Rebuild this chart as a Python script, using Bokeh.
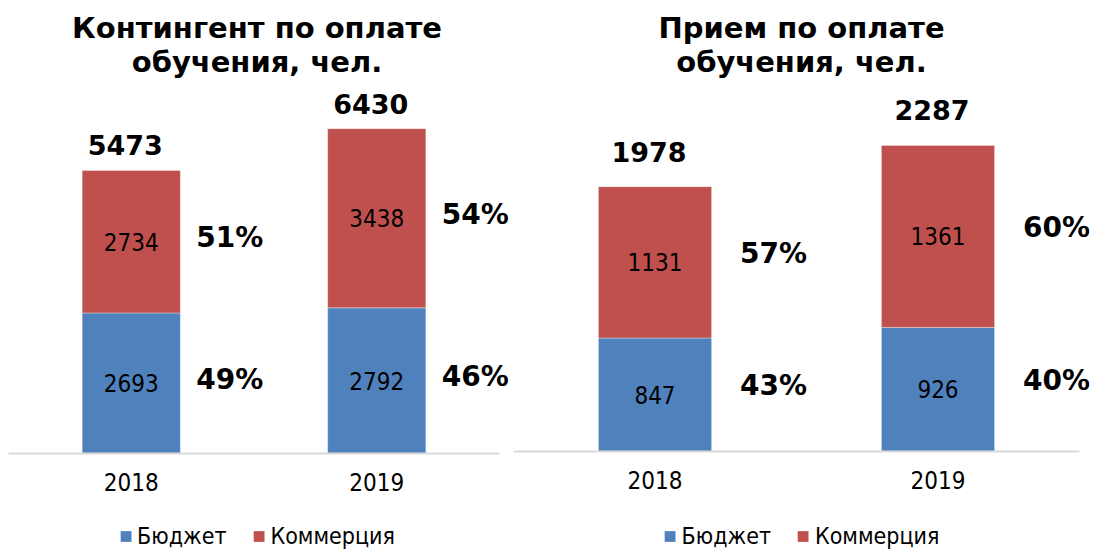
from bokeh.plotting import figure
from bokeh.models import (Range1d, ColumnDataSource, Legend, LegendItem, Title,
                          LabelSet, FixedTicker)
from bokeh.layouts import row
from bokeh.embed import file_html
from bokeh.resources import INLINE
from bokeh.core.properties import value

years = ["2018", "2019"]
series = ["Бюджет", "Коммерция"]
colors = ["#4F81BD", "#C0504D"]

left_title = ["Контингент по оплате", "обучения, чел."]
left_budget = [2693, 2792]
left_commerce = [2734, 3438]
left_totals = ["5473", "6430"]
left_pct_budget = ["49%", "46%"]
left_pct_commerce = ["51%", "54%"]

right_title = ["Прием по оплате", "обучения, чел."]
right_budget = [847, 926]
right_commerce = [1131, 1361]
right_totals = ["1978", "2287"]
right_pct_budget = ["43%", "40%"]
right_pct_commerce = ["57%", "60%"]

BOLD = value("DejaVu Sans")
COND = value("DejaVu Sans Condensed")


def make_chart(title_lines, budget, commerce, totals, pct_b, pct_c,
               width, border_right, x_start, y_start, y_end,
               total_gap, pct_dx, pct_up):
    n = len(years)
    xpos = [i + 0.5 for i in range(n)]
    src = ColumnDataSource(dict(
        xpos=xpos,
        b=budget,
        c=commerce,
        bmid=[v / 2 for v in budget],
        cmid=[b + c / 2 for b, c in zip(budget, commerce)],
        top=[b + c for b, c in zip(budget, commerce)],
        total=totals,
        blab=[str(v) for v in budget],
        clab=[str(v) for v in commerce],
        pb=pct_b,
        pc=pct_c,
    ))
    frame_w = width - border_right
    unit = {513: 245.5, 576: 283.0}[frame_w]
    x_end = x_start + frame_w / unit
    p = figure(x_range=Range1d(x_start, x_end), y_range=Range1d(y_start, y_end),
               width=width, height=549, output_backend="svg",
               toolbar_location=None, min_border_left=0,
               min_border_right=border_right, min_border_top=0,
               min_border_bottom=0)
    p.outline_line_color = None
    p.grid.visible = False
    p.yaxis.visible = False
    p.background_fill_color = "white"
    p.border_fill_color = "white"

    rs = p.vbar_stack(["b", "c"], x="xpos", width=0.4, source=src,
                      fill_color=colors, line_color="#ffffff", line_alpha=0.35,
                      line_width=1)

    ax = p.xaxis[0]
    ax.fixed_location = 0
    ax.bounds = (0, n)
    ax.ticker = FixedTicker(ticks=xpos, minor_ticks=[])
    ax.major_label_overrides = {x: y for x, y in zip(xpos, years)}
    ax.axis_line_color = "#d9d9d9"
    ax.axis_line_width = 2
    ax.major_tick_line_color = None
    ax.minor_tick_line_color = None
    ax.major_label_text_font = "DejaVu Sans Condensed"
    ax.major_label_text_font_size = "24px"
    ax.major_label_text_color = "#000000"
    ax.major_label_standoff = 14

    # title lines: added from the frame outward
    p.add_layout(Title(text=title_lines[1], align="center", text_font="DejaVu Sans",
                       text_font_style="bold", text_font_size="29px",
                       text_color="#000000", standoff=0), "above")
    p.add_layout(Title(text=title_lines[0], align="center", text_font="DejaVu Sans",
                       text_font_style="bold", text_font_size="29px",
                       text_color="#000000", standoff=-5), "above")
    p.add_layout(Title(text=" ", align="center", text_font_size="8px",
                       standoff=0), "above")

    legend = Legend(items=[LegendItem(label=series[i], renderers=[rs[i]]) for i in range(2)],
                    orientation="horizontal", location="bottom_center",
                    glyph_width=14, glyph_height=14, label_standoff=5, spacing=25,
                    label_text_font="DejaVu Sans Condensed", label_text_font_size="23px",
                    label_text_color="#000000", border_line_color=None,
                    background_fill_alpha=0, padding=0, margin=0)
    p.add_layout(legend)

    p.text(x="xpos", y="top", text="total", source=src, text_align="center",
           text_baseline="alphabetic", x_offset=-6, y_offset=-total_gap,
           text_font=BOLD, text_font_style="bold", text_font_size="27px",
           text_color="#000000")
    p.text(x="xpos", y="bmid", text="blab", source=src, text_align="center",
           text_baseline="middle", text_font=COND, text_font_size="24px",
           text_color="#000000")
    p.text(x="xpos", y="cmid", text="clab", source=src, text_align="center",
           text_baseline="middle", text_font=COND, text_font_size="24px",
           text_color="#000000")
    for col, ycol in (("pb", "bmid"), ("pc", "cmid")):
        p.add_layout(LabelSet(x="xpos", y=ycol, text=col, source=src,
                              text_align="left", text_baseline="middle",
                              x_offset=pct_dx, y_offset=pct_up,
                              text_font=BOLD, text_font_style="bold",
                              text_font_size="28px", text_color="#000000"))
    return p


left = make_chart(left_title, left_budget, left_commerce, left_totals,
                  left_pct_budget, left_pct_commerce,
                  width=513, border_right=0, x_start=-0.0326,
                  y_start=-1846, y_end=7192,
                  total_gap=25, pct_dx=65, pct_up=4)
right = make_chart(right_title, right_budget, right_commerce, right_totals,
                   right_pct_budget, right_pct_commerce,
                   width=586, border_right=10, x_start=0.0,
                   y_start=-734, y_end=2787,
                   total_gap=35, pct_dx=85, pct_up=9)

layout = row(left, right)
open("out.html", "w").write(file_html(layout, INLINE))
